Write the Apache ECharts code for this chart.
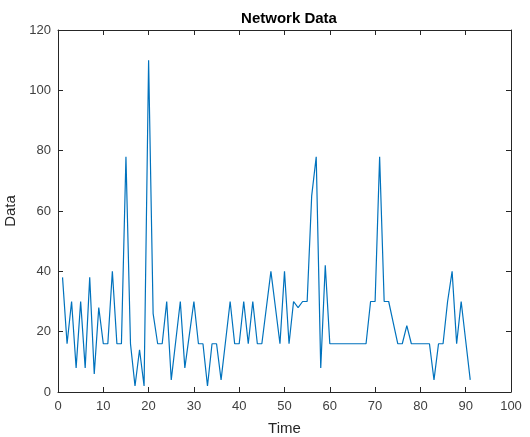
<!DOCTYPE html>
<html>
<head>
<meta charset="utf-8">
<script src="https://cdn.jsdelivr.net/npm/echarts@6/dist/echarts.min.js"></script>
<style>
  html, body { margin: 0; padding: 0; background: #ffffff; }
  #chart { width: 530px; height: 437px; }
</style>
</head>
<body>
<div id="chart"></div>
<script>
// time steps 1..91 and the recorded values
var time = [];
for (var t = 1; t <= 91; t++) time.push(t);

var values = [
  38, 16, 30, 8, 30, 8, 38, 6, 28, 16,
  16, 40, 16, 16, 78, 16, 2, 14, 2, 110,
  26, 16, 16, 30, 4, 17, 30, 8, 19, 30,
  16, 16, 2, 16, 16, 4, 17, 30, 16, 16,
  30, 16, 30, 16, 16, 28, 40, 28, 16, 40,
  16, 30, 28, 30, 30, 65, 78, 8, 42, 16,
  16, 16, 16, 16, 16, 16, 16, 16, 30, 30,
  78, 30, 30, 23, 16, 16, 22, 16, 16, 16,
  16, 16, 4, 16, 16, 30, 40, 16, 30, 17,
  4
];

var xTicks = [0, 10, 20, 30, 40, 50, 60, 70, 80, 90, 100];
var yTicks = [0, 20, 40, 60, 80, 100, 120];

var points = time.map(function (x, i) { return [x, values[i]]; });

var fontFam = '"Liberation Sans", Arial, Helvetica, sans-serif';
var axisColor = '#262626';
var labelColor = '#404040';

function frameAxis(pos, isX) {
  return {
    type: 'value',
    position: pos,
    min: isX ? xTicks[0] : yTicks[0],
    max: isX ? xTicks[xTicks.length - 1] : yTicks[yTicks.length - 1],
    interval: isX ? 10 : 20,
    axisLine: { show: true, onZero: false, lineStyle: { color: axisColor, width: 1 } },
    axisTick: { show: true, inside: true, length: 5, lineStyle: { color: axisColor } },
    axisLabel: { show: false },
    splitLine: { show: false }
  };
}

var chart = echarts.init(document.getElementById('chart'));
chart.setOption({
  animation: false,
  backgroundColor: '#ffffff',
  title: {
    text: 'Network Data',
    left: 284,
    textAlign: 'center',
    top: 6,
    textStyle: { fontFamily: fontFam, fontSize: 15, fontWeight: 'bold', color: '#000000' }
  },
  grid: { left: 58, right: 19, top: 30, bottom: 45, outerBoundsMode: 'none' },
  xAxis: [
    {
      type: 'value',
      position: 'bottom',
      min: 0, max: 100, interval: 10,
      name: 'Time',
      nameLocation: 'middle',
      nameGap: 29,
      nameTextStyle: { fontFamily: fontFam, fontSize: 15, color: '#262626' },
      axisLine: { show: true, onZero: false, lineStyle: { color: axisColor, width: 1 } },
      axisTick: { show: true, inside: true, length: 5, lineStyle: { color: axisColor } },
      axisLabel: { fontFamily: fontFam, fontSize: 13, color: labelColor, margin: 8 },
      splitLine: { show: false }
    },
    frameAxis('top', true)
  ],
  yAxis: [
    {
      type: 'value',
      position: 'left',
      min: 0, max: 120, interval: 20,
      name: 'Data',
      nameLocation: 'middle',
      nameGap: 33,
      nameTextStyle: { fontFamily: fontFam, fontSize: 15, color: '#262626' },
      axisLine: { show: true, onZero: false, lineStyle: { color: axisColor, width: 1 } },
      axisTick: { show: true, inside: true, length: 5, lineStyle: { color: axisColor } },
      axisLabel: { fontFamily: fontFam, fontSize: 13, color: labelColor, margin: 7 },
      splitLine: { show: false }
    },
    frameAxis('right', false)
  ],
  series: [
    {
      type: 'line',
      data: points,
      xAxisIndex: 0,
      yAxisIndex: 0,
      showSymbol: false,
      lineStyle: { color: '#0072BD', width: 1.2 },
      itemStyle: { color: '#0072BD' }
    }
  ]
});
</script>
</body>
</html>
